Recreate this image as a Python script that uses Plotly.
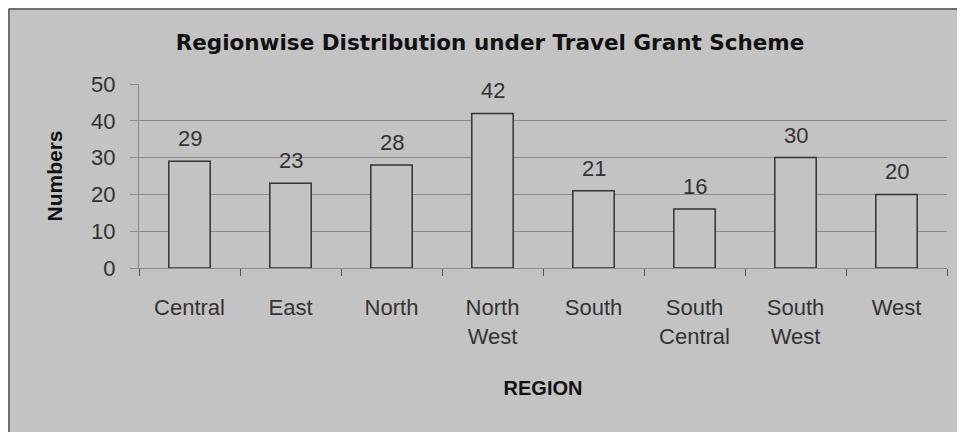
import plotly.graph_objects as go

regions = ["Central", "East", "North", "North<br>West", "South", "South<br>Central", "South<br>West", "West"]
numbers = [29, 23, 28, 42, 21, 16, 30, 20]
y_ticks = [0, 10, 20, 30, 40, 50]

bg = "#c3c3c3"
font = "Liberation Sans"

fig = go.Figure()
fig.add_trace(go.Bar(
    x=regions, y=numbers,
    marker=dict(color=bg, line=dict(color="#333333", width=1.5)),
    width=0.41,
))

# data labels sit a bit above the bar tops, like excel does
for r, n in zip(regions, numbers):
    fig.add_annotation(x=r, y=n, text=str(n), showarrow=False,
                       yanchor="bottom", yshift=8,
                       font=dict(size=22, color="#333333", family=font))

# page has an 8px body margin, so everything is placed 8px up/left
l, r_, t, b = 131, 26, 76, 172
W, H = 965, 432
pw, ph = W - l - r_, H - t - b
# chart border (left and top edges visible only)
x0 = (1 - l) / pw
y1 = 1 + (t - 1) / ph
fig.add_shape(type="line", xref="paper", yref="paper", x0=x0, x1=x0, y0=-2, y1=y1,
              line=dict(color="#6e6e6e", width=2))
fig.add_shape(type="line", xref="paper", yref="paper", x0=x0, x1=2, y0=y1, y1=y1,
              line=dict(color="#6e6e6e", width=2))

fig.update_layout(
    width=W, height=H,
    margin=dict(l=l, r=r_, t=t, b=b),
    paper_bgcolor=bg, plot_bgcolor=bg,
    showlegend=False,
    font=dict(family=font, color="#333333"),
    title=dict(text="<b>Regionwise Distribution under Travel Grant Scheme</b>",
               x=482 / W, xanchor="center",
               y=1 - 34 / H, yanchor="middle",
               font=dict(size=21.5, color="#111111", family="DejaVu Sans")),
)
fig.update_xaxes(
    showline=True, linecolor="#8a8a8a", linewidth=1,
    ticks="outside", tickson="boundaries", ticklen=7, tickcolor="#555555",
    tickfont=dict(size=22, color="#333333"),
    ticklabelstandoff=20,
    title=dict(text="<b>REGION</b>", font=dict(size=20, color="#111111"), standoff=32),
)
fig.update_yaxes(
    range=[0, 50], tickvals=y_ticks,
    showline=True, linecolor="#8a8a8a", linewidth=1,
    showgrid=True, gridcolor="#8a8a8a", gridwidth=1,
    ticks="outside", ticklen=8, tickcolor="#8a8a8a",
    tickfont=dict(size=22, color="#333333"),
    ticklabelstandoff=10,
    zeroline=False,
    title=dict(text="<b>Numbers</b>", font=dict(size=21, color="#111111"), standoff=22),
)

fig.write_html("out.html")
